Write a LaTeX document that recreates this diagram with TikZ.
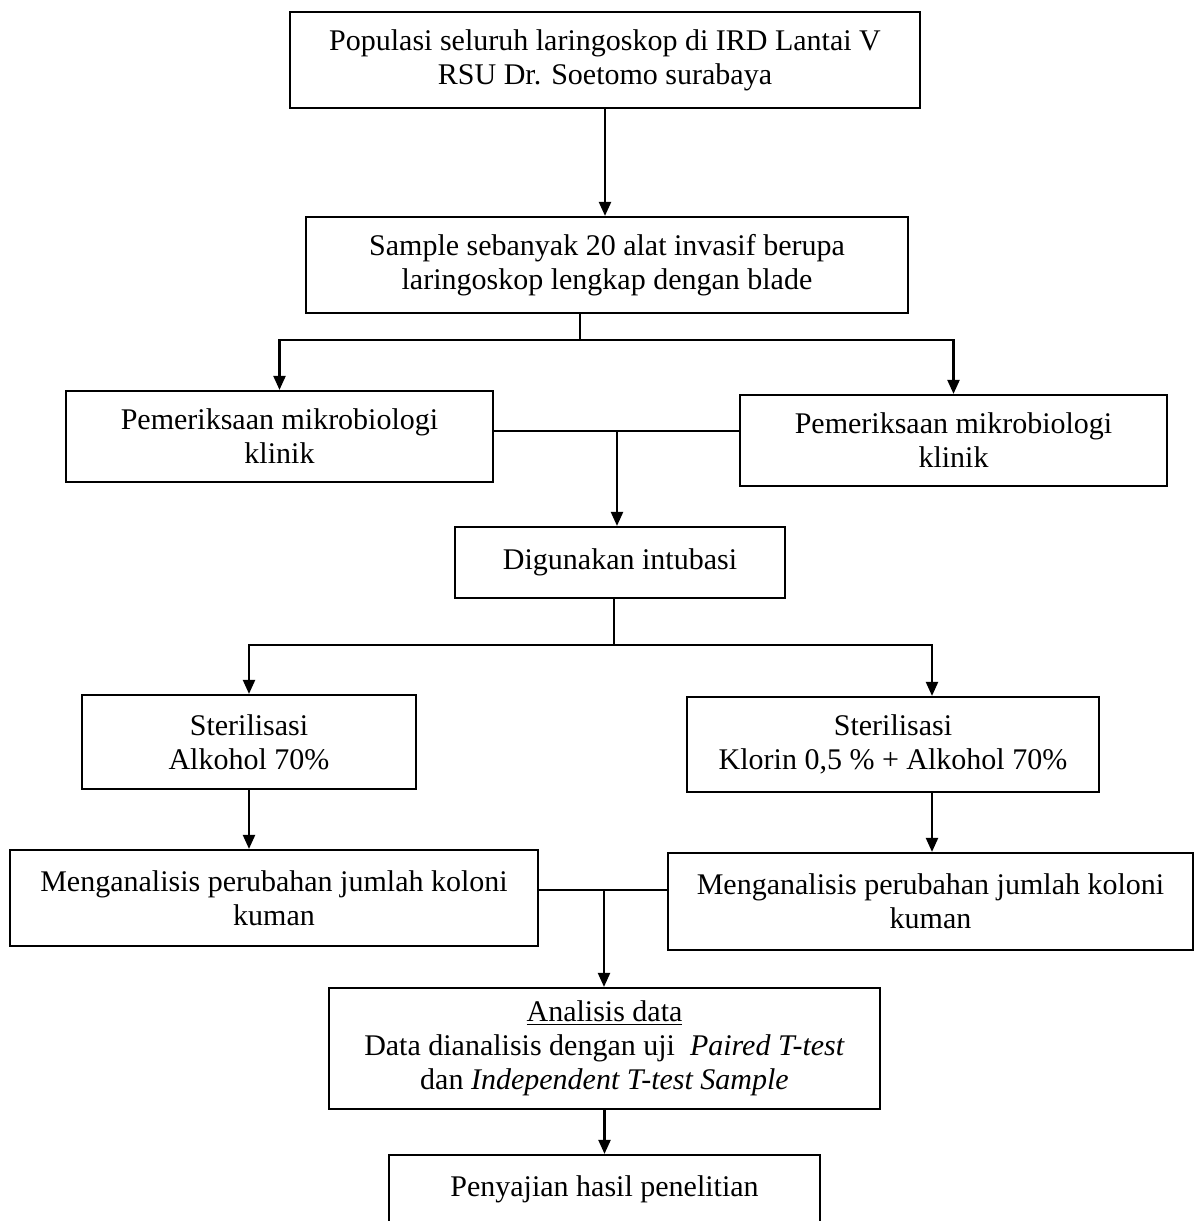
\documentclass[tikz,border=0pt]{standalone}
\usepackage{fontspec}
\setmainfont{Liberation Serif}
\usetikzlibrary{arrows.meta}
\begin{document}
\begin{tikzpicture}[x=0.5pt,y=-0.5pt,
  box/.style={draw, line width=1.1pt, rectangle, inner sep=0pt, align=center,
    font=\fontsize{15}{17}\selectfont},
  conn/.style={line width=1.1pt},
  arr/.style={line width=1.1pt, -{Triangle[length=7pt,width=6pt]}}]
\useasboundingbox (0,0) rectangle (1195,1221);
\fill[white] (0,0) rectangle (1195,1221);

\node[box, minimum width=315pt, minimum height=48pt] (top) at (605,60)
  {Populasi seluruh laringoskop di IRD Lantai V\\RSU Dr. Soetomo surabaya};
\node[box, minimum width=301pt, minimum height=48pt] (sample) at (607,265)
  {Sample sebanyak 20 alat invasif berupa\\laringoskop lengkap dengan blade};
\node[box, minimum width=213.5pt, minimum height=45.5pt] (mikL) at (279.5,436.5)
  {Pemeriksaan mikrobiologi\\klinik};
\node[box, minimum width=213.5pt, minimum height=45.5pt] (mikR) at (953.5,440.5)
  {Pemeriksaan mikrobiologi\\klinik};
\node[box, minimum width=165pt, minimum height=35.5pt] (dig) at (620,562.5)
  {Digunakan intubasi};
\node[box, minimum width=167pt, minimum height=47pt] (sterL) at (249,742)
  {Sterilisasi\\Alkohol 70\%};
\node[box, minimum width=206pt, minimum height=47.5pt] (sterR) at (893,744.5)
  {Sterilisasi\\Klorin 0,5 \% + Alkohol 70\%};
\node[box, minimum width=264pt, minimum height=48pt] (anaL) at (274,898)
  {Menganalisis perubahan jumlah koloni\\kuman};
\node[box, minimum width=262.5pt, minimum height=48.5pt] (anaR) at (930.5,901.5)
  {Menganalisis perubahan jumlah koloni\\kuman};
\node[box, minimum width=275.5pt, minimum height=60.5pt] (data) at (604.5,1048.5)
  {\underline{Analisis data}\\Data dianalisis dengan uji \ \textit{Paired T-test}\\dan \textit{Independent T-test Sample}};
\node[box, minimum width=215.5pt, minimum height=34.5pt, text depth=3pt] (pen) at (604.5,1189.5)
  {Penyajian hasil penelitian};

% connectors
\draw[arr] (top.south) -- (top.south |- sample.north);

\coordinate (s1) at (580,340);
\draw[conn] (sample.south -| s1) -- (s1);
\draw[arr] (s1) -| (mikL.north);
\draw[arr] (s1) -| (mikR.north);

\coordinate (j1) at (617,431);
\draw[conn] (mikL.east |- j1) -- (mikR.west |- j1);
\draw[arr] (j1) -- (j1 |- dig.north);

\coordinate (d1) at (614,645);
\coordinate (r1) at (932,645);
\draw[conn] (dig.south -| d1) -- (d1);
\draw[arr] (d1) -| (sterL.north);
\draw[arr] (d1) -- (r1) -- (r1 |- sterR.north);

\draw[arr] (sterL.south) -- (sterL.south |- anaL.north);
\draw[arr] (sterR.south -| r1) -- (r1 |- anaR.north);

\coordinate (a1) at (604,890);
\draw[conn] (anaL.east |- a1) -- (anaR.west |- a1);
\draw[arr] (a1) -- (a1 |- data.north);

\draw[arr] (data.south -| pen.north) -- (pen.north);
\end{tikzpicture}
\end{document}
